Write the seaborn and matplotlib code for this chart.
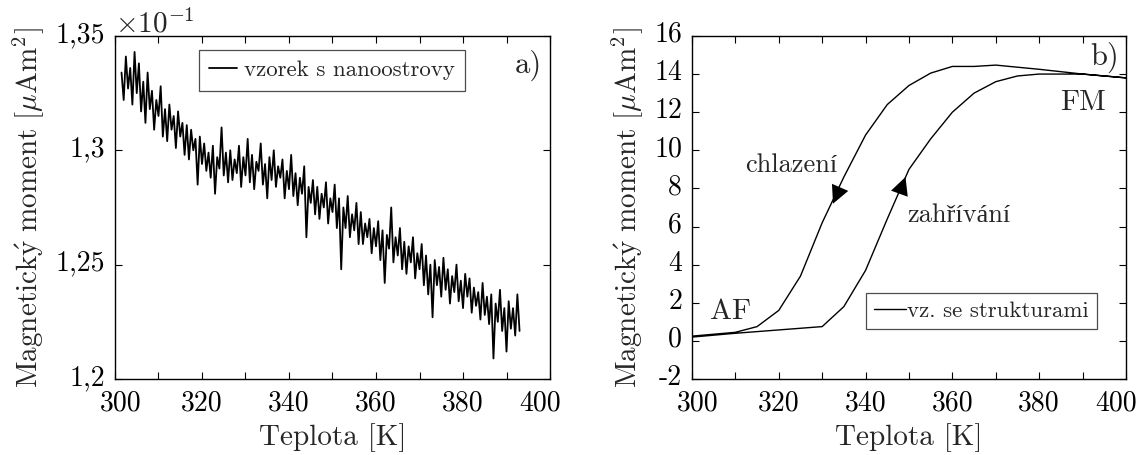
import numpy as np
import pandas as pd
import seaborn as sns
import matplotlib.pyplot as plt
from matplotlib.transforms import ScaledTranslation

# panel a) - sample with nanoislands, moment in units of 1e-1 uAm^2
temp_a = np.arange(301.5, 393.01, 0.5)
moment_a = [
    1.334, 1.322, 1.341, 1.327, 1.336, 1.320, 1.343, 1.325, 1.338, 1.317,
    1.330, 1.312, 1.334, 1.318, 1.326, 1.309, 1.322, 1.315, 1.328, 1.306,
    1.318, 1.304, 1.320, 1.309, 1.315, 1.301, 1.317, 1.306, 1.312, 1.298,
    1.311, 1.296, 1.309, 1.300, 1.305, 1.285, 1.306, 1.294, 1.303, 1.291,
    1.299, 1.288, 1.302, 1.281, 1.297, 1.292, 1.310, 1.289, 1.299, 1.286,
    1.300, 1.287, 1.296, 1.290, 1.302, 1.284, 1.297, 1.289, 1.305, 1.286,
    1.298, 1.283, 1.295, 1.291, 1.303, 1.285, 1.294, 1.279, 1.297, 1.287,
    1.300, 1.284, 1.293, 1.288, 1.296, 1.279, 1.291, 1.283, 1.298, 1.280,
    1.290, 1.276, 1.288, 1.281, 1.293, 1.262, 1.284, 1.277, 1.287, 1.272,
    1.284, 1.270, 1.281, 1.275, 1.286, 1.268, 1.279, 1.273, 1.285, 1.266,
    1.279, 1.248, 1.275, 1.266, 1.280, 1.262, 1.272, 1.265, 1.277, 1.259,
    1.273, 1.259, 1.268, 1.262, 1.270, 1.255, 1.266, 1.258, 1.269, 1.252,
    1.265, 1.242, 1.263, 1.257, 1.275, 1.251, 1.262, 1.254, 1.266, 1.248,
    1.260, 1.246, 1.258, 1.251, 1.262, 1.244, 1.255, 1.248, 1.259, 1.241,
    1.254, 1.237, 1.250, 1.227, 1.252, 1.241, 1.249, 1.236, 1.253, 1.239,
    1.248, 1.233, 1.245, 1.238, 1.250, 1.234, 1.243, 1.231, 1.246, 1.236,
    1.244, 1.229, 1.240, 1.232, 1.238, 1.226, 1.242, 1.228, 1.236, 1.224,
    1.237, 1.209, 1.233, 1.225, 1.239, 1.221, 1.231, 1.212, 1.234, 1.222,
    1.231, 1.219, 1.237, 1.221,
]

# panel b) - sample with structures, heating then cooling
temp_heat = [300, 310, 330, 335, 340, 345, 350, 355, 360, 365, 370, 375, 380, 390, 400]
moment_heat = [0.2, 0.4, 0.75, 1.8, 3.7, 6.4, 9.0, 10.6, 12.0, 13.0, 13.6, 13.9, 14.0, 14.0, 13.8]
temp_cool = [400, 390, 380, 370, 365, 360, 355, 350, 345, 340, 335, 330, 325, 320, 315, 310, 300]
moment_cool = [13.8, 14.0, 14.25, 14.47, 14.4, 14.4, 14.05, 13.4, 12.4, 10.8, 8.6, 6.2, 3.4, 1.6, 0.75, 0.45, 0.25]

xticks = [300, 310, 320, 330, 340, 350, 360, 370, 380, 390, 400]
xticklabels = ['300', '', '320', '', '340', '', '360', '', '380', '', '400']
yticks_a = [1.2, 1.25, 1.3, 1.35]
yticklabels_a = ['1,2', '1,25', '1,3', '1,35']
yticks_b = [-2, 0, 2, 4, 6, 8, 10, 12, 14, 16]
yticklabels_b = ['-2', '0', '2', '4', '6', '8', '10', '12', '14', '16']

ylabel = r'$\mathrm{Magnetick\acute{y}\ moment\ [\mu Am^2]}$'

sns.set_style('ticks')
plt.rcParams['font.family'] = ['cmr10', 'Liberation Serif']
plt.rcParams['mathtext.fontset'] = 'cm'
plt.rcParams['axes.formatter.use_mathtext'] = True
plt.rcParams['axes.unicode_minus'] = False

fig = plt.figure(figsize=(11.43, 4.55), dpi=100)
ax1 = fig.add_axes([0.1006, 0.167, 0.3806, 0.754])
ax2 = fig.add_axes([0.6054, 0.167, 0.3797, 0.754])

df_a = pd.DataFrame({'T': temp_a, 'M': moment_a})
sns.lineplot(data=df_a, x='T', y='M', ax=ax1, color='black', lw=1.3,
             estimator=None, label='vzorek s nanoostrovy')

df_b = pd.DataFrame({'T': temp_heat + temp_cool, 'M': moment_heat + moment_cool})
sns.lineplot(data=df_b, x='T', y='M', ax=ax2, color='black', lw=1.0,
             estimator=None, sort=False, label='vz. se strukturami')

lift = ScaledTranslation(0, 3 / 72, fig.dpi_scale_trans)
nudge_in = ScaledTranslation(4 / 72, 0, fig.dpi_scale_trans)
nudge_out = ScaledTranslation(-7 / 72, 0, fig.dpi_scale_trans)
for ax in (ax1, ax2):
    ax.set_xlim(300, 400)
    ax.set_xticks(xticks)
    ax.set_xticklabels(xticklabels)
    ax.tick_params(direction='in', top=True, right=True, length=5, width=0.8,
                   labelsize=20, colors='black')
    ax.tick_params(axis='x', pad=8)
    ax.tick_params(axis='y', pad=7)
    for s in ax.spines.values():
        s.set_color('black')
        s.set_linewidth(1.0)
    ax.set_xlabel('Teplota [K]', fontsize=21, labelpad=5)
    ax.set_ylabel(ylabel, fontsize=21, labelpad=6)
    xl = ax.get_xticklabels()
    xl[0].set_transform(xl[0].get_transform() + nudge_in)
    xl[-1].set_transform(xl[-1].get_transform() + nudge_out)

ax1.set_ylim(1.2, 1.35)
ax1.set_yticks(yticks_a)
ax1.set_yticklabels(yticklabels_a)
ax2.set_ylim(-2, 16)
ax2.set_yticks(yticks_b)
ax2.set_yticklabels(yticklabels_b)
for ax in (ax1, ax2):
    for lab in ax.get_yticklabels():
        lab.set_transform(lab.get_transform() + lift)

leg1 = ax1.legend(loc='upper left', bbox_to_anchor=(0.193, 0.959), borderaxespad=0,
                  fontsize=16.5, fancybox=False, framealpha=1, edgecolor='0.3',
                  handlelength=1.2, handletextpad=0.3, borderpad=0.45)
leg1.get_frame().set_linewidth(0.9)
leg2 = ax2.legend(loc='lower left', bbox_to_anchor=(0.401, 0.146), borderaxespad=0,
                  fontsize=16.5, fancybox=False, framealpha=1, edgecolor='0.3',
                  handlelength=1.4, handletextpad=0.05, borderpad=0.35)
leg2.get_frame().set_linewidth(0.9)

fig.text(0.1006, 0.915, r'$\times10^{-1}$', fontsize=21, va='bottom', ha='left')
ax1.text(395.0, 1.337, 'a)', fontsize=22, ha='center', va='center')
ax2.text(395.0, 14.85, 'b)', fontsize=22, ha='center', va='center')
ax2.text(308.8, 1.5, 'AF', fontsize=21, ha='center', va='center')
ax2.text(390.0, 12.5, 'FM', fontsize=21, ha='center', va='center')
ax2.text(333.6, 9.2, 'chlazení', fontsize=19, ha='right', va='center')
ax2.text(349.6, 6.6, 'zahřívání', fontsize=19, ha='left', va='center')

arrow = dict(arrowstyle='-|>', mutation_scale=32, color='black', lw=0,
             shrinkA=0, shrinkB=0)
ax2.annotate('', xy=(332.5, 7.2), xytext=(334.6, 8.3), arrowprops=arrow)
ax2.annotate('', xy=(349.2, 8.6), xytext=(347.6, 7.6), arrowprops=arrow)

fig.savefig('out.png', dpi=100)
